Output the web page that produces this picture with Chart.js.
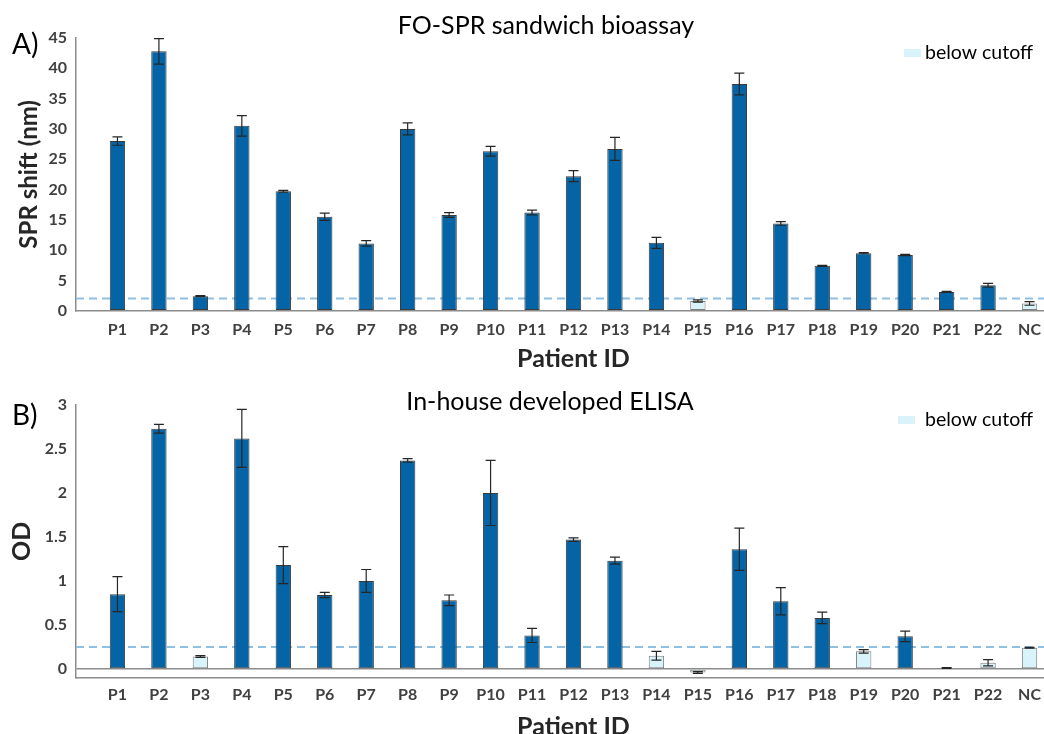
<!DOCTYPE html>
<html>
<head>
<meta charset="utf-8">
<script src="https://cdn.jsdelivr.net/npm/chart.js@4.4.0/dist/chart.umd.min.js"></script>
<style>
    html, body { margin: 0; padding: 0; background: #fff; }
    #wrap { position: relative; width: 1044px; height: 734px; overflow: hidden; }
    #wrap canvas { position: absolute; left: 0; }
    #spr-chart { top: 0; }
    #elisa-chart { top: 365px; }
</style>
</head>
<body>
<div id="wrap">
    <canvas id="spr-chart" width="1071" height="380"></canvas>
    <canvas id="elisa-chart" width="1071" height="380"></canvas>
</div>
<script>
const patients = ['P1', 'P2', 'P3', 'P4', 'P5', 'P6', 'P7', 'P8', 'P9', 'P10', 'P11', 'P12',
    'P13', 'P14', 'P15', 'P16', 'P17', 'P18', 'P19', 'P20', 'P21', 'P22', 'NC'];

const sprShift = [28.0, 42.8, 2.4, 30.5, 19.7, 15.5, 11.1, 30.0, 15.8, 26.3, 16.2, 22.2,
    26.7, 11.2, 1.6, 37.4, 14.4, 7.4, 9.5, 9.2, 3.1, 4.2, 1.2];
const sprError = [0.7, 2.1, 0.1, 1.7, 0.15, 0.6, 0.45, 1.0, 0.4, 0.8, 0.4, 0.9,
    1.9, 0.9, 0.2, 1.8, 0.3, 0.1, 0.1, 0.1, 0.1, 0.3, 0.3];
const sprCutoff = 2;
const sprTicks = [0, 5, 10, 15, 20, 25, 30, 35, 40, 45];

const odValues = [0.85, 2.73, 0.14, 2.62, 1.18, 0.84, 1.0, 2.37, 0.78, 2.0, 0.38, 1.47,
    1.23, 0.15, -0.04, 1.36, 0.77, 0.58, 0.2, 0.37, 0.01, 0.07, 0.24];
const odError = [0.2, 0.05, 0.01, 0.33, 0.21, 0.03, 0.13, 0.02, 0.06, 0.37, 0.08, 0.02,
    0.04, 0.05, 0.01, 0.24, 0.155, 0.065, 0.02, 0.06, 0.005, 0.035, 0.005];
const odCutoff = 0.25;
const odTicks = [0, 0.5, 1, 1.5, 2, 2.5, 3];

const legendLabel = 'below cutoff';

const DARK = '#0564a5';
const DARK_EDGE = '#3b3b3b';
const LIGHT = '#d9f3fb';
const LIGHT_EDGE = '#7f7f7f';
const AXIS = '#8c8c8c';
const CUTOFF = '#8fc0e2';
const FONT = 'Lato';

// error bars drawn from dataset.errors through the y scale
const errorBars = {
    id: 'errorBars',
    afterDatasetsDraw(chart) {
        const ds = chart.data.datasets[0];
        const meta = chart.getDatasetMeta(0);
        const y = chart.scales.y;
        const ctx = chart.ctx;
        ctx.save();
        ctx.strokeStyle = '#262626';
        ctx.lineWidth = 1.2;
        meta.data.forEach((bar, i) => {
            const v = ds.data[i].y;
            const e = ds.errors[i];
            const top = y.getPixelForValue(v + e);
            const bottom = y.getPixelForValue(v - e);
            ctx.beginPath();
            ctx.moveTo(bar.x, top);
            ctx.lineTo(bar.x, bottom);
            ctx.moveTo(bar.x - 5, top);
            ctx.lineTo(bar.x + 5, top);
            ctx.moveTo(bar.x - 5, bottom);
            ctx.lineTo(bar.x + 5, bottom);
            ctx.stroke();
        });
        ctx.restore();
    },
};

// panel letter, panel title and the legend
const panelText = {
    id: 'panelText',
    afterDraw(chart, args, opts) {
        const ctx = chart.ctx;
        ctx.save();
        ctx.textBaseline = 'middle';
        ctx.fillStyle = '#000';
        ctx.textAlign = 'left';
        ctx.font = '28px ' + FONT;
        ctx.fillText(opts.letter, 12, opts.letterY);
        ctx.textAlign = 'center';
        ctx.font = '25px ' + FONT;
        ctx.fillText(opts.title, opts.titleX, opts.titleY);
        ctx.fillStyle = LIGHT;
        ctx.fillRect(opts.swatchX, opts.legendY - 4, 17, 8);
        ctx.fillStyle = '#000';
        ctx.textAlign = 'left';
        ctx.font = '19.5px ' + FONT;
        ctx.fillText(legendLabel, 925, opts.legendY);
        ctx.restore();
    },
};

function createPanel(canvas, cfg) {
    return new Chart(canvas, {
        type: 'bar',
        data: {
            datasets: [
                {
                    type: 'bar',
                    order: 1,
                    data: patients.map((p, i) => ({ x: i + 1, y: cfg.values[i] })),
                    errors: cfg.errors,
                    backgroundColor: cfg.values.map((v) => (v < cfg.cutoff ? LIGHT : DARK)),
                    borderColor: cfg.values.map((v) => (v < cfg.cutoff ? LIGHT_EDGE : DARK_EDGE)),
                    borderWidth: 1,
                    borderSkipped: false,
                    barPercentage: 0.37,
                    categoryPercentage: 1,
                },
                {
                    type: 'line',
                    order: 2,
                    data: [{ x: 0, y: cfg.cutoff }, { x: 24, y: cfg.cutoff }],
                    borderColor: CUTOFF,
                    borderWidth: 2,
                    borderDash: [8, 5],
                    pointRadius: 0,
                    fill: false,
                },
            ],
        },
        options: {
            responsive: false,
            animation: false,
            layout: {
                padding: { top: cfg.top, right: 0, bottom: 0, left: 0 },
            },
            plugins: {
                legend: { display: false },
                tooltip: { enabled: false },
                title: { display: false },
                panelText: cfg.text,
            },
            scales: {
                x: {
                    type: 'linear',
                    min: 0,
                    max: 24,
                    offset: false,
                    afterBuildTicks(scale) {
                        scale.ticks = patients.map((p, i) => ({ value: i + 1 }));
                    },
                    afterFit(scale) {
                        scale.height = cfg.xHeight;
                    },
                    grid: { display: false, drawTicks: false },
                    border: { color: AXIS, width: 1.5 },
                    ticks: {
                        autoSkip: false,
                        maxRotation: 0,
                        minRotation: 0,
                        padding: cfg.xTickPad,
                        color: '#404040',
                        font: { family: FONT, size: 16, weight: 'bold' },
                        callback(value) {
                            return patients[value - 1] || '';
                        },
                    },
                    title: {
                        display: true,
                        text: 'Patient ID',
                        color: '#262626',
                        font: { family: FONT, size: 25, weight: 'bold' },
                        padding: { top: 0, bottom: cfg.xTitlePad },
                    },
                },
                y: {
                    min: cfg.min,
                    max: cfg.max,
                    afterBuildTicks(scale) {
                        scale.ticks = cfg.ticks.map((v) => ({ value: v }));
                    },
                    afterFit(scale) {
                        scale.width = 76;
                    },
                    grid: {
                        display: true,
                        drawTicks: false,
                        lineWidth: 1.5,
                        color: (ctx) => (ctx.tick && ctx.tick.value === 0 && cfg.min < 0 ? AXIS : 'rgba(0,0,0,0)'),
                    },
                    border: { color: AXIS, width: 1.5 },
                    ticks: {
                        padding: 9,
                        color: '#404040',
                        font: { family: FONT, size: 16, weight: 'bold' },
                        callback(value) {
                            return String(value);
                        },
                    },
                    title: {
                        display: true,
                        text: cfg.yTitle,
                        color: '#262626',
                        font: { family: FONT, size: cfg.yTitleSize, weight: 'bold' },
                        padding: { top: cfg.yTitlePad, bottom: 0 },
                    },
                },
            },
        },
        plugins: [errorBars, panelText],
    });
}

function initCharts() {
    createPanel(document.getElementById('spr-chart'), {
        values: sprShift,
        errors: sprError,
        cutoff: sprCutoff,
        ticks: sprTicks,
        min: 0,
        max: 45,
        top: 38,
        xHeight: 69.3,
        xTickPad: 10,
        xTitlePad: 6,
        yTitle: 'SPR shift (nm)',
        yTitleSize: 24,
        yTitlePad: 15,
        text: {
            letter: 'A)', letterY: 45,
            title: 'FO-SPR sandwich bioassay', titleX: 546, titleY: 26,
            swatchX: 904, legendY: 53,
        },
    });

    createPanel(document.getElementById('elisa-chart'), {
        values: odValues,
        errors: odError,
        cutoff: odCutoff,
        ticks: odTicks,
        min: -0.1,
        max: 3,
        top: 40,
        xHeight: 67.3,
        xTickPad: 8,
        xTitlePad: 3,
        yTitle: 'OD',
        yTitleSize: 25,
        yTitlePad: 7,
        text: {
            letter: 'B)', letterY: 51,
            title: 'In-house developed ELISA', titleX: 550, titleY: 37,
            swatchX: 898, legendY: 55,
        },
    });
}

document.addEventListener('DOMContentLoaded', initCharts);
</script>
</body>
</html>
